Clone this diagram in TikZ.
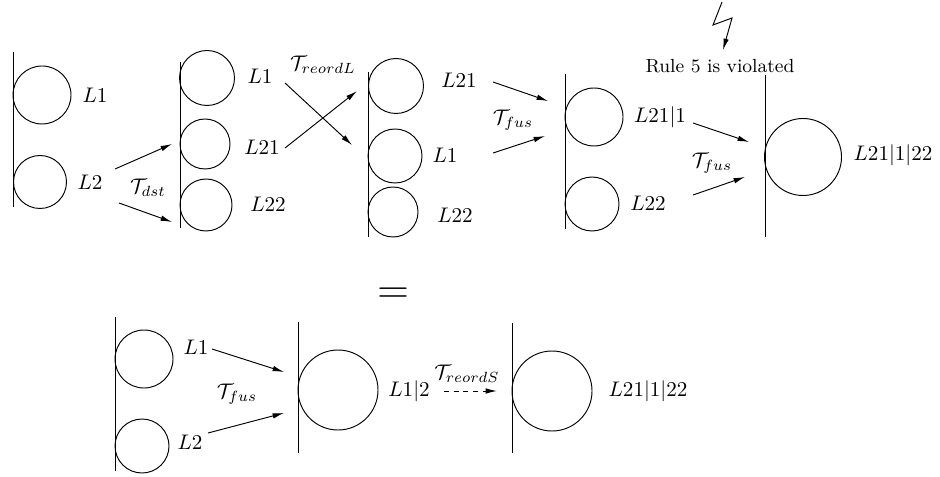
\documentclass[tikz,border=0pt]{standalone}
\usepackage{amsmath}
\usetikzlibrary{arrows.meta}
\tikzset{
  ring/.style={circle,draw,inner sep=0pt,minimum size=#1*0.948pt},
  lbl/.style={inner sep=0pt},
  tr/.style={-{Latex[length=5.4pt,width=2.6pt]}}
}
\begin{document}
\begin{tikzpicture}[x=0.474pt,y=-0.474pt,line width=0.45pt]
\useasboundingbox (0,0) rectangle (940,477);
% first column
\draw (13,52) -- (13,207);
\node[ring=29] (a1) at (42,95) {};
\node[ring=26.5] (a2) at (40,182) {};
\node[lbl] (la1) at (95,95) {$L1$};
\node[lbl] (la2) at (90,182) {$L2$};
% split
\coordinate (s1) at (115,169); \coordinate (e1) at (172,144);
\coordinate (s2) at (119,203); \coordinate (e2) at (172,222);
\draw[tr] (s1) -- (e1);
\draw[tr] (s2) -- (e2);
\node[lbl] (tdst) at (148,188) {$\mathcal{T}_{dst}$};
% second column
\draw (180,62) -- (180,228);
\node[ring=27.5] (b1) at (207,78) {};
\node[ring=25] (b2) at (205,144) {};
\node[ring=26] (b3) at (206,205) {};
\node[lbl] (lb1) at (260,76) {$L1$};
\node[lbl] (lb2) at (262,147) {$L21$};
\node[lbl] (lb3) at (268,204) {$L22$};
% reorder
\coordinate (s3) at (285,83); \coordinate (e3) at (352,145);
\coordinate (s4) at (285,148); \coordinate (e4) at (357,91);
\draw[tr] (s3) -- (e3);
\draw[tr] (s4) -- (e4);
\node[lbl] (treo) at (323,65) {$\mathcal{T}_{reordL}$};
% third column
\draw (368,72) -- (368,237);
\node[ring=27.5] (c1) at (396,86) {};
\node[ring=27] (c2) at (395,156) {};
\node[ring=25] (c3) at (393,212) {};
\node[lbl] (lc1) at (459,80) {$L21$};
\node[lbl] (lc2) at (445,155) {$L1$};
\node[lbl] (lc3) at (455,215) {$L22$};
% fusion
\coordinate (s5) at (493,82); \coordinate (e5) at (548,101);
\coordinate (s6) at (493,153); \coordinate (e6) at (545,136);
\draw[tr] (s5) -- (e5);
\draw[tr] (s6) -- (e6);
\node[lbl] (tfa) at (513,120) {$\mathcal{T}_{fus}$};
% fourth column
\draw (565,74) -- (565,229);
\node[ring=29] (d1) at (594,117) {};
\node[ring=27] (d2) at (592,204) {};
\node[lbl] (ld1) at (660,117) {$L21|1$};
\node[lbl] (ld2) at (648,203) {$L22$};
% fusion again
\coordinate (s7) at (693,123); \coordinate (e7) at (749,142);
\coordinate (s8) at (693,195); \coordinate (e8) at (745,177);
\draw[tr] (s7) -- (e7);
\draw[tr] (s8) -- (e8);
\node[lbl] (tfb) at (712,163) {$\mathcal{T}_{fus}$};
% fifth column
\draw (765,75) -- (765,237);
\node[ring=38.5] (f1) at (803,157) {};
\node[lbl] (lf1) at (893,155) {$L21|1|22$};
\node[lbl] (rule) at (720,66) {\small Rule 5 is violated};
\coordinate (z0) at (722,2); \coordinate (z1) at (713,25);
\coordinate (z2) at (732,18); \coordinate (z3) at (723,50);
\draw[tr] (z0) -- (z1) -- (z2) -- (z3);
% equals
\node[lbl] (eq) at (393,296) {\huge $=$};
% bottom row
\draw (115,317) -- (115,471);
\node[ring=29] (g1) at (144,359) {};
\node[ring=27] (g2) at (142,446) {};
\node[lbl] (lg1) at (196,347) {$L1$};
\node[lbl] (lg2) at (190,442) {$L2$};
\coordinate (s9) at (212,349); \coordinate (e9) at (284,372);
\coordinate (s10) at (208,433); \coordinate (e10) at (284,413);
\draw[tr] (s9) -- (e9);
\draw[tr] (s10) -- (e10);
\node[lbl] (tfc) at (237,394) {$\mathcal{T}_{fus}$};
\draw (298,322) -- (298,453);
\node[ring=40] (h1) at (338,390) {};
\node[lbl] (lh1) at (409,391) {$L1|2$};
\node[lbl] (trs) at (467,374) {$\mathcal{T}_{reordS}$};
\coordinate (s11) at (444,391); \coordinate (e11) at (497,391);
\draw[tr,dash pattern=on 2.3pt off 2.3pt] (s11) -- (e11);
\draw (512,323) -- (512,453);
\node[ring=40] (k1) at (552,391) {};
\node[lbl] (lk1) at (648,391) {$L21|1|22$};
\end{tikzpicture}
\end{document}
